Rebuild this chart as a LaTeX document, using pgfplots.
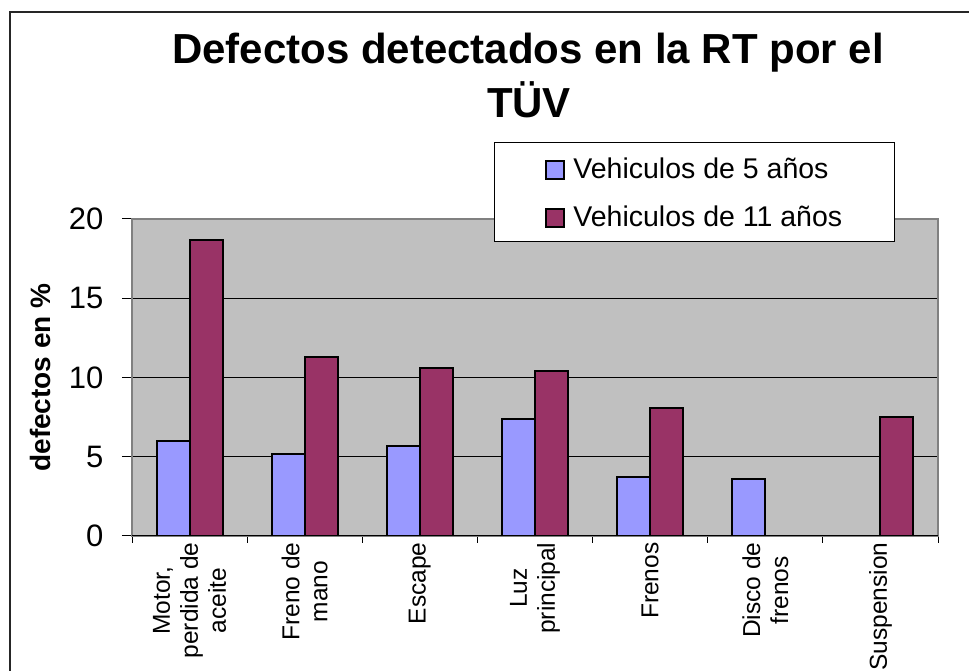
\documentclass[border=0pt]{standalone}
\usepackage{pgfplots}
\pgfplotsset{compat=1.18}
\usepackage{fontspec}
\setmainfont{Liberation Sans}
\definecolor{bluebar}{HTML}{9999FF}
\definecolor{maroonbar}{HTML}{993366}
\definecolor{plotbg}{HTML}{C0C0C0}
\definecolor{frameg}{HTML}{808080}
\begin{document}
\begin{tikzpicture}[x=1pt,y=1pt]
\useasboundingbox (0,0) rectangle (969,671);
\fill[white] (0,0) rectangle (969,671);
\draw[line width=1.5pt, black!85] (10,-5) -- (10,659) -- (975,659);
\node[anchor=base, font=\fontsize{42}{42}\selectfont\bfseries] at (528,607) {Defectos detectados en la RT por el};
\node[anchor=base, font=\fontsize{42}{42}\selectfont\bfseries] at (529,553) {TÜV};
\begin{axis}[
  at={(132pt,135pt)}, anchor=south west,
  scale only axis, width=806pt, height=317pt,
  xmin=-0.5, xmax=6.5, ymin=0, ymax=20,
  ybar=0pt, bar width=33pt,
  axis background/.style={fill=plotbg},
  axis line style={draw=frameg, line width=2.5pt},
  ymajorgrids, major grid style={black, line width=0.8pt},
  ytick={0,5,10,15,20},
  xtick={0,1,2,3,4,5,6},
  minor xtick={-0.5,0.5,1.5,2.5,3.5,4.5,5.5,6.5},
  xticklabels={{Motor,\\perdida de\\aceite},{Freno de\\mano},{Escape},{Luz\\principal},{Frenos},{Disco de\\frenos},{Suspension}},
  tick align=outside,
  major tick length=10pt, minor tick length=7pt,
  major x tick style={draw=none},
  minor x tick style={black, line width=1pt},
  major y tick style={black, line width=1pt},
  xtick pos=bottom, ytick pos=left,
  /pgf/number format/assume math mode=true,
  yticklabel style={font=\fontsize{31}{31}\selectfont},
  yticklabel shift=15pt,
  xticklabel style={rotate=90, anchor=east, align=center, font=\fontsize{24.5}{28}\selectfont},
  xticklabel shift=-7pt,
  ylabel={defectos en \%},
  ylabel style={at={(axis description cs:-0.113,0.5)}, anchor=center, font=\fontsize{28}{28}\selectfont\bfseries},
  legend image code/.code={\draw[#1, draw=black, line width=2pt, overlay] (0pt,-11pt) rectangle (18pt,7pt); \path[draw=none, fill=none] (0pt,0pt) rectangle (18pt,1pt);},
  legend cell align=left,
  legend style={at={(axis description cs:0.449,1.243)}, anchor=north west,
    draw=black, line width=1pt, fill=white,
    inner xsep=52pt, inner ysep=15pt, row sep=27.5pt, column sep=9pt,
    nodes={inner sep=0pt, text depth=0pt},
    font=\fontsize{28.5}{28.5}\selectfont},
]
\addplot[fill=bluebar, draw=black, line width=2pt] coordinates {(0,6.0) (1,5.2) (2,5.7) (3,7.4) (4,3.7) (5,3.6)};
\addplot[fill=maroonbar, draw=black, line width=2pt] coordinates {(0,18.7) (1,11.3) (2,10.6) (3,10.4) (4,8.1) (6,7.5)};
\legend{Vehiculos de 5 años, Vehiculos de 11 años}
\draw[black, line width=1.5pt] (rel axis cs:0,0) -- (rel axis cs:1,0);
\end{axis}
\end{tikzpicture}
\end{document}
